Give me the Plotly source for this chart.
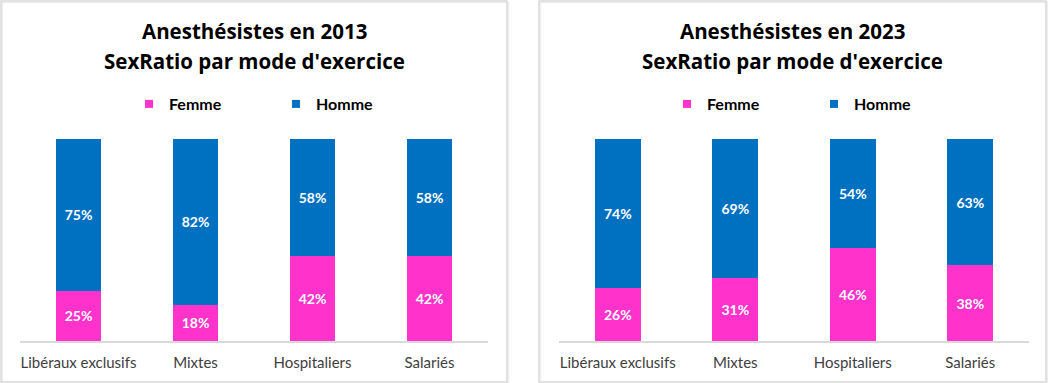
import plotly.graph_objects as go

categories = ["Libéraux exclusifs", "Mixtes", "Hospitaliers", "Salariés"]
femme_2013 = [25, 18, 42, 42]
homme_2013 = [75, 82, 58, 58]
femme_2023 = [26, 31, 46, 38]
homme_2023 = [74, 69, 54, 63]
title_line1 = ["Anesthésistes en 2013", "Anesthésistes en 2023"]
title_line2 = ["SexRatio par mode d'exercice", "SexRatio par mode d'exercice"]

PINK = "#FF33CC"
BLUE = "#0070C0"
FONT = "Lato"
TFONT = "Open Sans"
W, H = 1048, 383

fig = go.Figure()

panels = [
    dict(fem=femme_2013, hom=homme_2013, xa="x", ya="y", leg="legend"),
    dict(fem=femme_2023, hom=homme_2023, xa="x2", ya="y2", leg="legend2"),
]
for p in panels:
    for name, vals, col in [("Femme", p["fem"], PINK), ("Homme", p["hom"], BLUE)]:
        fig.add_trace(go.Bar(
            x=categories, y=vals, name=name, marker_color=col, marker_line_width=0,
            text=[f"{v}%" for v in vals], textposition="inside",
            insidetextanchor="middle", textangle=0,
            textfont=dict(color="white", size=14, family=FONT, weight="bold"),
            xaxis=p["xa"], yaxis=p["ya"], showlegend=False, width=0.39,
            hoverinfo="skip",
        ))
    for name, col in [("Femme", PINK), ("Homme", BLUE)]:
        fig.add_trace(go.Scatter(
            x=[None], y=[None], mode="markers", name=name,
            marker=dict(symbol="square", size=8, color=col),
            xaxis=p["xa"], yaxis=p["ya"], legend=p["leg"], showlegend=True,
        ))

def px_x(v):
    return v / W

def px_y(v):
    return 1 - v / H

ydom = [px_y(341), px_y(139)]
axis_common = dict(showgrid=False, zeroline=False,
                   tickfont=dict(family=FONT, size=15, color="#404040"),
                   showline=True, linecolor="#D9D9D9", linewidth=1.5, ticks="",
                   ticklabelstandoff=7, fixedrange=True)
leg_common = dict(orientation="h", yanchor="middle", xanchor="left",
                  font=dict(family=FONT, size=16, color="black", weight="bold"),
                  entrywidth=102, traceorder="normal", bgcolor="rgba(0,0,0,0)",
                  itemclick=False, itemdoubleclick=False)
fig.update_layout(
    width=W, height=H, margin=dict(l=0, r=0, t=0, b=0),
    paper_bgcolor="white", plot_bgcolor="white",
    barmode="stack", barnorm="percent",
    uniformtext=dict(minsize=14, mode="show"),
    xaxis=dict(domain=[px_x(20), px_x(488)], anchor="y", **axis_common),
    xaxis2=dict(domain=[px_x(559), px_x(1029)], anchor="y2", **axis_common),
    yaxis=dict(domain=ydom, range=[0, 100], visible=False, anchor="x"),
    yaxis2=dict(domain=ydom, range=[0, 100], visible=False, anchor="x2"),
    legend=dict(x=px_x(129), y=px_y(104), **leg_common),
    legend2=dict(x=px_x(667), y=px_y(104), **leg_common),
    showlegend=True,
)

# panel frames
for x0, x1 in [(1, 507), (539, 1046)]:
    fig.add_shape(type="rect", xref="paper", yref="paper",
                  x0=px_x(x0 + 1.5), x1=px_x(x1 + 1.5), y0=px_y(382 + 1.5), y1=px_y(1 + 1.5),
                  line=dict(color="#EEEEEE", width=1.5), fillcolor="rgba(0,0,0,0)", layer="below")
    fig.add_shape(type="rect", xref="paper", yref="paper",
                  x0=px_x(x0), x1=px_x(x1), y0=px_y(382), y1=px_y(1),
                  line=dict(color="#D9D9D9", width=1.5), fillcolor="rgba(0,0,0,0)", layer="below")

for cx, t1, t2 in zip([254, 792.5], title_line1, title_line2):
    for cy, t in [(31, t1), (61, t2)]:
        fig.add_annotation(x=px_x(cx), y=px_y(cy), xref="paper", yref="paper",
                           text=f"<b>{t}</b>", showarrow=False, xanchor="center", yanchor="middle",
                           font=dict(family=TFONT, size=20.5, color="black"), align="center")

fig.write_html("out.html", config={"displayModeBar": False},
               post_script="document.body.style.margin='0';")
